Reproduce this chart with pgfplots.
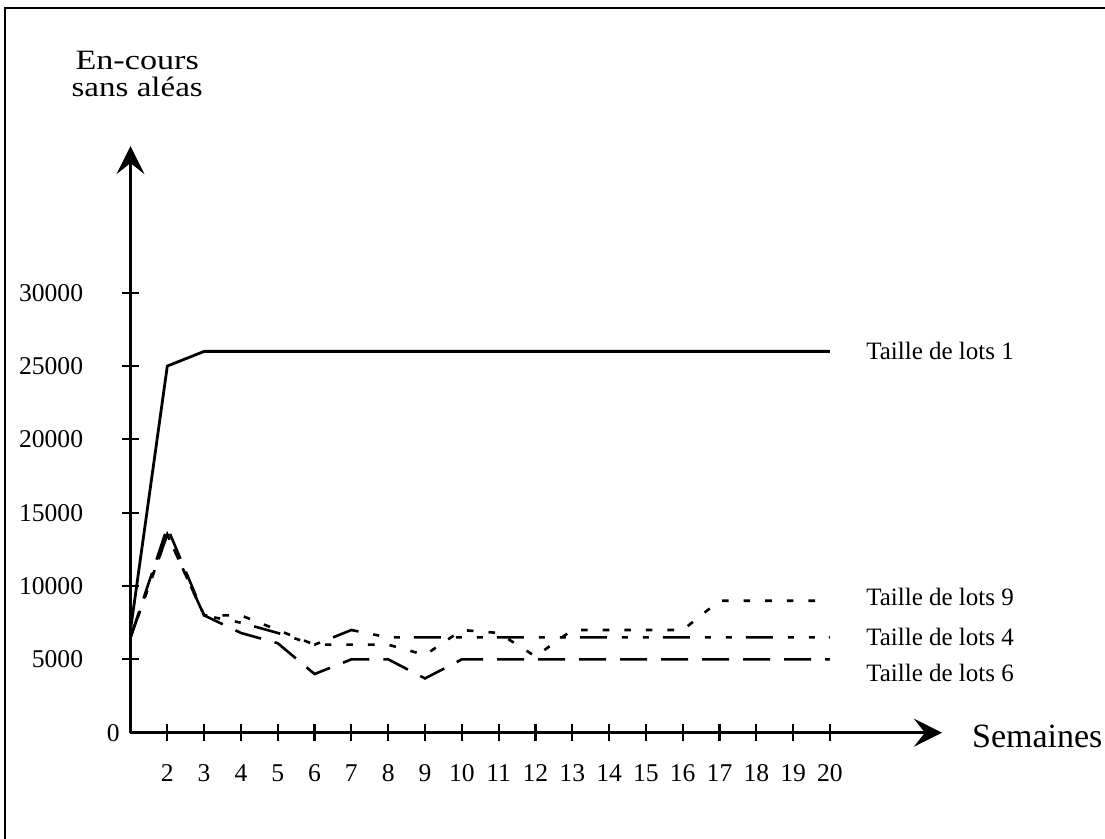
\documentclass[border=0pt]{standalone}
\usepackage{fontspec}
\setmainfont{Liberation Serif}
\usepackage{pgfplots}
\pgfplotsset{compat=1.18}
\usetikzlibrary{arrows.meta}
\begin{document}
\begin{tikzpicture}
\useasboundingbox (0,0) rectangle (552.5pt,419.5pt);
\draw[line width=1pt] (2.5pt,0) -- (2.5pt,415.5pt) -- (552.5pt,415.5pt);
\node[anchor=base, inner sep=0pt, font=\fontsize{14}{16}\selectfont] at (68.6pt,384.5pt) {\scalebox{1.22}[1]{En-cours}};
\node[anchor=base, inner sep=0pt, font=\fontsize{14}{16}\selectfont] at (68.6pt,371pt) {\scalebox{1.18}[1]{sans aléas}};
\begin{axis}[
  at={(65.25pt,53.15pt)}, anchor=south west,
  scale only axis, width=405.7pt, height=293.3pt,
  xmin=1, xmax=23.04, ymin=0, ymax=40000,
  axis lines=left,
  clip=false,
  scaled y ticks=false,
  x axis line style={line width=1.3pt, -{Stealth[length=14pt,width=14pt,inset=5.5pt]}},
  y axis line style={line width=1.3pt, -{Stealth[length=14pt,width=14pt,inset=5.5pt]}},
  xtick={2,...,20}, ytick={5000,10000,...,30000},
  tick align=center, major tick length=8.5pt,
  tick style={line width=1.1pt, black},
  /pgf/number format/assume math mode=true,
  /pgf/number format/.cd, 1000 sep={}, /pgfplots/.cd,
  ticklabel style={font=\fontsize{12.8}{15}\selectfont},
  yticklabel style={anchor=east, inner sep=0pt, xshift=-19.25pt},
  xticklabel style={anchor=base, inner sep=0pt, yshift=-20.3pt},
]
% Taille de lots 1
\addplot[black, line width=1.4pt] coordinates {
(1,7000) (2,25000) (3,26000) (4,26000) (5,26000) (6,26000) (7,26000) (8,26000) (9,26000) (10,26000)
(11,26000) (12,26000) (13,26000) (14,26000) (15,26000) (16,26000) (17,26000) (18,26000) (19,26000) (20,26000)};
% Taille de lots 9 (short dashes)
\addplot[black, line width=1.3pt, dash pattern=on 3.3pt off 7.5pt] coordinates {
(1,6500) (2,13500) (3,8000) (4,8000) (5,7000) (6,6000) (7,6000) (8,6000) (9,5300) (10,7000)
(11,6800) (12,5200) (13,7000) (14,7000) (15,7000) (16,7000) (17,9000) (18,9000) (19,9000) (20,9000)};
% Taille de lots 4 (dash dot dot)
\addplot[black, line width=1.3pt, dash pattern=on 13.5pt off 7.5pt on 3pt off 7.5pt on 3pt off 7pt] coordinates {
(1,6500) (2,13500) (3,8000) (4,7500) (5,6800) (6,6000) (7,7000) (8,6500) (9,6500) (10,6500)
(11,6500) (12,6500) (13,6500) (14,6500) (15,6500) (16,6500) (17,6500) (18,6500) (19,6500) (20,6500)};
% Taille de lots 6 (long dashes)
\addplot[black, line width=1.3pt, dash pattern=on 13.5pt off 7pt] coordinates {
(1,6500) (2,14000) (3,8000) (4,6800) (5,6100) (6,4000) (7,5000) (8,5000) (9,3700) (10,5000)
(11,5000) (12,5000) (13,5000) (14,5000) (15,5000) (16,5000) (17,5000) (18,5000) (19,5000) (20,5000)};
\node[anchor=east, inner sep=0pt, font=\fontsize{12.8}{15}\selectfont] at (axis cs:1,0) [xshift=-5.25pt] {0};
\node[anchor=west, inner sep=0pt, font=\fontsize{12.5}{15}\selectfont] at (axis cs:20.975,26000) {Taille de lots 1};
\node[anchor=west, inner sep=0pt, font=\fontsize{12.5}{15}\selectfont] at (axis cs:20.975,9250) {Taille de lots 9};
\node[anchor=west, inner sep=0pt, font=\fontsize{12.5}{15}\selectfont] at (axis cs:20.975,6550) {Taille de lots 4};
\node[anchor=west, inner sep=0pt, font=\fontsize{12.5}{15}\selectfont] at (axis cs:20.975,4100) {Taille de lots 6};
\node[anchor=base west, inner sep=0pt, font=\fontsize{17}{20}\selectfont] at (axis cs:23.85,-1043) {Semaines};
\end{axis}
\end{tikzpicture}
\end{document}
